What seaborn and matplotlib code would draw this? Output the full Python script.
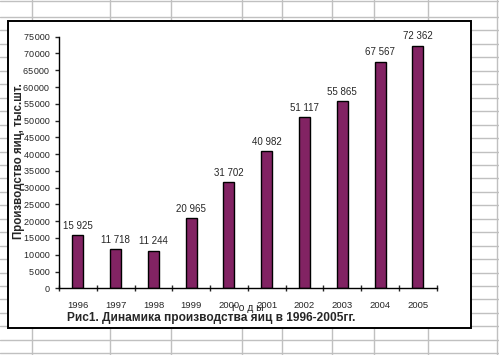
import matplotlib
matplotlib.use("Agg")
import matplotlib.pyplot as plt
from matplotlib.lines import Line2D
from matplotlib.patches import Rectangle
from matplotlib.ticker import FixedLocator, FuncFormatter
import seaborn as sns
import pandas as pd

# данные
years = ["1996", "1997", "1998", "1999", "2000", "2001", "2002", "2003", "2004", "2005"]
eggs = [15925, 11718, 11244, 20965, 31702, 40982, 51117, 55865, 67567, 72362]
y_ticks = list(range(0, 75001, 5000))

ylabel = "Производство яиц, тыс.шт."
xlabel = "г о д ы"
caption = "Рис1. Динамика производства яиц в 1996-2005гг."

def fmt(v, sep=" "):
    return f"{int(v):,}".replace(",", sep)

sns.set_style("white")
plt.rcParams["font.family"] = ["Liberation Sans", "DejaVu Sans"]

W, H = 499, 355
fig = plt.figure(figsize=(W / 100, H / 100), dpi=100)

def px(x, y):
    return x / W, 1 - y / H

# сетка листа Excel на фоне
grid_color = "#c0c0c0"
for gx in [32, 110, 170.5, 242, 282, 332, 374, 428, 496.5]:
    fig.add_artist(Line2D([gx / W] * 2, [0, 1], color=grid_color, lw=1, zorder=0))
fig.add_artist(Line2D([0, 1], [1 - 1 / H] * 2, color=grid_color, lw=1, zorder=0))
gy = 17.0
while gy < H:
    fig.add_artist(Line2D([0, 1], [1 - gy / H] * 2, color=grid_color, lw=1, zorder=0))
    gy += 13.45

# рамка диаграммы
x0, y0 = px(8, 327.7)
x1, y1 = px(471, 20.7)
fig.add_artist(Rectangle((x0, y0), x1 - x0, y1 - y0, facecolor="white",
                         edgecolor="black", lw=1.4, zorder=0.5))

left, bottom = px(59, 288.3)
right, top = px(436.7, 36.7)
ax = fig.add_axes([left, bottom, right - left, top - bottom], zorder=2)
ax.patch.set_alpha(0)

df = pd.DataFrame({"year": years, "eggs": eggs})
sns.barplot(data=df, x="year", y="eggs", color="#822363", edgecolor="black",
            linewidth=1, width=0.29, saturation=1, ax=ax)
for b in ax.patches:
    b.set_facecolor("#822363")

ax.bar_label(ax.containers[0], labels=[fmt(v) for v in eggs], fontsize=7, padding=3)

ax.set_xlim(-0.5, len(years) - 0.5)
ax.set_ylim(0, 75000)
ax.set_yticks(y_ticks)
ax.yaxis.set_major_formatter(FuncFormatter(lambda v, p: fmt(v, "\u200a")))
ax.xaxis.set_minor_locator(FixedLocator([i - 0.5 for i in range(len(years) + 1)]))
ax.tick_params(axis="x", which="major", length=0, pad=9, labelsize=6.8)
ax.tick_params(axis="x", which="minor", length=5, direction="inout", width=1, bottom=True)
ax.tick_params(axis="y", length=3, width=1, direction="out", left=True, pad=4, labelsize=6.5)
ax.set_xlabel("")
ax.set_ylabel("")
sns.despine(ax=ax)
for s in ["left", "bottom"]:
    ax.spines[s].set_color("black")
    ax.spines[s].set_linewidth(1)

fig.text(*px(19, 161), ylabel, rotation=90, ha="center", va="center",
         fontsize=8.3, fontweight="bold", zorder=3)
fig.text(*px(248, 308), xlabel, ha="center", va="center", fontsize=7.5, zorder=3)
fig.text(*px(211, 318), caption, ha="center", va="center",
         fontsize=8.6, fontweight="bold", zorder=3)

fig.savefig("out.png", dpi=100)
